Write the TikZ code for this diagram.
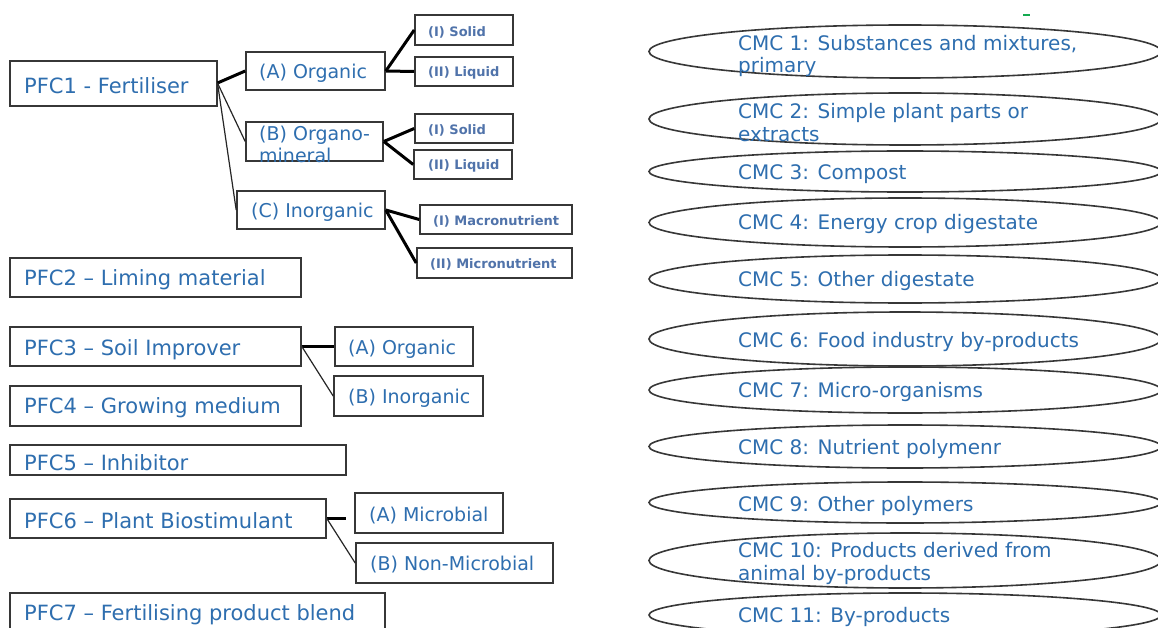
\documentclass[tikz,border=0pt]{standalone}
\usepackage{fontspec}
\setmainfont{DejaVu Sans}
\usetikzlibrary{shapes.geometric,fit}
\definecolor{txtblue}{RGB}{46,110,175}
\definecolor{smallblue}{RGB}{80,115,170}
\definecolor{edge}{RGB}{55,55,55}
\definecolor{greenmark}{RGB}{20,170,80}
\tikzset{
  boxst/.style={draw=edge, line width=1.6pt, inner sep=0pt, fill=none},
  ellst/.style={ellipse, draw=edge, line width=1.6pt, inner sep=0pt},
  big/.style={text=txtblue, font=\fontsize{21}{22}\selectfont, anchor=west, inner sep=0pt},
  mid/.style={text=txtblue, font=\fontsize{19}{22}\selectfont, anchor=west, inner sep=0pt, align=left},
  small/.style={text=smallblue, font=\bfseries\fontsize{13}{16}\selectfont, anchor=west, inner sep=0pt},
  cmct/.style={text=txtblue, font=\fontsize{20}{22.5}\selectfont, anchor=west, inner sep=0pt, align=left},
  thick line/.style={draw=black, line width=3pt},
  thin line/.style={draw=black!85, line width=1.2pt},
}
\begin{document}
\begin{tikzpicture}[x=1pt,y=-1pt]
\useasboundingbox (0,0) rectangle (1158,628);
\fill[white] (0,0) rectangle (1158,628);

% ---- left: PFC boxes ----
\node[boxst, fit={(10,61) (217,106)}] (pfc1) {};
\node[big] (pfc1t) at (24,86) {PFC1 - Fertiliser};
\node[boxst, fit={(246,52) (385,90)}] (a1) {};
\node[mid] (a1t) at (259,73) {(A) Organic};
\node[boxst, fit={(246,122) (383,161)}] (b1) {};
\node[mid] (b1t) at (259,144) {(B) Organo-\\mineral};
\node[boxst, fit={(237,191) (385,229)}] (c1) {};
\node[mid] (c1t) at (251,212) {(C) Inorganic};

\node[boxst, fit={(415,15) (513,45)}] (s1) {};
\node[small] (s1t) at (428,32) {(I) Solid};
\node[boxst, fit={(415,57) (513,86)}] (l1) {};
\node[small] (l1t) at (428,72.5) {(II) Liquid};
\node[boxst, fit={(415,114) (513,143)}] (s2) {};
\node[small] (s2t) at (428,130) {(I) Solid};
\node[boxst, fit={(414,150) (512,179)}] (l2) {};
\node[small] (l2t) at (428,166) {(II) Liquid};
\node[boxst, fit={(420,205) (572,234)}] (mac) {};
\node[small] (mact) at (433,221) {(I) Macronutrient};
\node[boxst, fit={(417,248) (572,278)}] (mic) {};
\node[small] (mict) at (430,264) {(II) Micronutrient};

\node[boxst, fit={(10,258) (301,297)}] (pfc2) {};
\node[big] (pfc2t) at (24,280) {PFC2 -- Liming material};

\node[boxst, fit={(10,327) (301,366)}] (pfc3) {};
\node[big] (pfc3t) at (24,350) {PFC3 -- Soil Improver};
\node[boxst, fit={(335,327) (473,366)}] (a3) {};
\node[mid] (a3t) at (348,349) {(A) Organic};
\node[boxst, fit={(334,376) (483,416)}] (b3) {};
\node[mid] (b3t) at (348,398) {(B) Inorganic};

\node[boxst, fit={(10,386) (301,426)}] (pfc4) {};
\node[big] (pfc4t) at (24,408) {PFC4 -- Growing medium};

\node[boxst, fit={(10,445) (346,475)}] (pfc5) {};
\node[big] (pfc5t) at (24,463) {PFC5 -- Inhibitor};

\node[boxst, fit={(10,499) (326,538)}] (pfc6) {};
\node[big] (pfc6t) at (24,521) {PFC6 -- Plant Biostimulant};
\node[boxst, fit={(355,493) (503,533)}] (a6) {};
\node[mid] (a6t) at (369,516) {(A) Microbial};
\node[boxst, fit={(356,543) (553,583)}] (b6) {};
\node[mid] (b6t) at (370,565) {(B) Non-Microbial};

\node[boxst, fit={(10,593) (385,640)}] (pfc7) {};
\node[big] (pfc7t) at (24,615) {PFC7 -- Fertilising product blend};

% ---- connectors ----
\coordinate (p1) at (217.5,83);
\draw[thick line] (p1) -- (a1.west);
\draw[thin line] (p1) -- (b1.west);
\draw[thin line] (p1) -- (c1.west);
\draw[thick line] (a1.east) -- (s1.west);
\draw[thick line] (a1.east) -- (l1.west);
\draw[thick line] (b1.east) -- (s2.west);
\draw[thick line] (b1.east) -- (l2.west);
\draw[thick line] (c1.east) -- (mac.west);
\draw[thick line] (c1.east) -- (mic.west);
\draw[thick line] (pfc3.east) -- (a3.west);
\draw[thin line] (pfc3.east) -- (b3.west);
\coordinate (m6) at (346,518.5);
\draw[thick line] (pfc6.east) -- (m6);
\draw[thin line] (pfc6.east) -- (b6.west);

% ---- right: CMC ellipses ----
\node[ellst, minimum width=512, minimum height=53] (e1) at (905,51.5) {};
\node[cmct] (e1t) at (738,56) {CMC 1: Substances and mixtures,\\primary};
\node[ellst, minimum width=512, minimum height=52] (e2) at (905,119) {};
\node[cmct] (e2t) at (738,122.5) {CMC 2: Simple plant parts or\\extracts};
\node[ellst, minimum width=512, minimum height=41] (e3) at (905,171.5) {};
\node[cmct] (e3t) at (738,174) {CMC 3: Compost};
\node[ellst, minimum width=512, minimum height=49] (e4) at (905,222.5) {};
\node[cmct] (e4t) at (738,224) {CMC 4: Energy crop digestate};
\node[ellst, minimum width=512, minimum height=48] (e5) at (905,279) {};
\node[cmct] (e5t) at (738,281) {CMC 5: Other digestate};
\node[ellst, minimum width=512, minimum height=54] (e6) at (905,339) {};
\node[cmct] (e6t) at (738,342) {CMC 6: Food industry by-products};
\node[ellst, minimum width=512, minimum height=46] (e7) at (905,390) {};
\node[cmct] (e7t) at (738,392) {CMC 7: Micro-organisms};
\node[ellst, minimum width=512, minimum height=43] (e8) at (905,446.5) {};
\node[cmct] (e8t) at (738,449) {CMC 8: Nutrient polymenr};
\node[ellst, minimum width=512, minimum height=41] (e9) at (905,502.5) {};
\node[cmct] (e9t) at (738,506) {CMC 9: Other polymers};
\node[ellst, minimum width=512, minimum height=55] (e10) at (905,560.5) {};
\node[cmct] (e10t) at (738,563.5) {CMC 10: Products derived from\\animal by-products};
\node[ellst, minimum width=512, minimum height=44] (e11) at (905,615) {};
\node[cmct] (e11t) at (738,617) {CMC 11: By-products};

% small green mark
\draw[greenmark, line width=2.5pt] (1023,15) -- (1030,15);
\end{tikzpicture}
\end{document}
